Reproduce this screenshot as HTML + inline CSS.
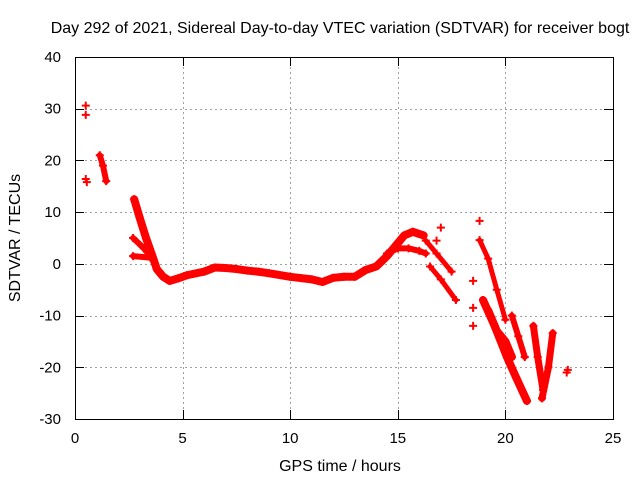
<!DOCTYPE html>
<html><head><meta charset="utf-8"><style>
body{margin:0;background:#fff;}
svg{display:block;font-family:"Liberation Sans",sans-serif;}
</style></head><body>
<svg id="chart" width="640" height="480" viewBox="0 0 640 480" xmlns="http://www.w3.org/2000/svg">
<rect x="0" y="0" width="640" height="480" fill="#fff"/>
<g id="grid"></g>
<g id="series"></g>
<rect x="75.5" y="57.5" width="538" height="362" fill="none" stroke="#000" stroke-width="1"/>
<g id="ticks"></g>
<text x="340" y="33" font-size="16" text-anchor="middle">Day 292 of 2021, Sidereal Day-to-day VTEC variation (SDTVAR) for receiver bogt</text>
<text x="340" y="471" font-size="16" text-anchor="middle">GPS time / hours</text>
<text transform="translate(20,238) rotate(-90)" font-size="16" text-anchor="middle">SDTVAR / TECUs</text>
</svg>
<script>
const xTicks=[0,5,10,15,20,25];
const yTicks=[40,30,20,10,0,-10,-20,-30];
const isolated=[[0.5,30.6],[0.5,28.8],[0.5,16.4],[0.55,15.8],[18.8,8.3],[18.5,-3.3],[18.5,-8.5],[18.5,-12],[22.85,-21],[22.9,-20.5],[16.8,4.5],[17.0,7]];
const trackA=[[1.15,21],[1.3,19],[1.45,16]];
const trackMain=[[2.75,12.5],[3.0,9],[3.3,5],[3.6,1.5],[3.8,-1],[4.1,-2.5],[4.4,-3.3],[4.8,-2.8],[5.2,-2.2],[6,-1.5],[6.5,-0.7],[7,-0.8],[7.5,-1],[8,-1.3],[8.5,-1.5],[9,-1.8],[10,-2.5],[11,-3],[11.5,-3.5],[12,-2.7],[12.5,-2.5],[13,-2.5],[13.5,-1.2],[14,-0.5],[14.5,1.5],[15,4],[15.3,5.5],[15.7,6.2],[16.2,5.5]];
const trackBranch1=[[2.7,5],[3.2,3],[3.6,1]];
const trackBranch2=[[2.7,1.5],[3.5,1.2]];
const trackLower=[[14.5,2],[15,3],[15.5,3],[16,2.5],[16.3,2]];
const trackDrop1=[[16.3,4.5],[16.8,2],[17.5,-1.5]];
const trackDrop2=[[16.5,-0.5],[17,-3],[17.7,-7]];
const trackR1=[[18.8,4.6],[19.2,1],[19.6,-5],[20,-10.8]];
const trackR2=[[18.96,-7],[19.5,-12],[20.07,-18],[20.5,-22],[21,-26.5]];
const trackR2b=[[19.2,-9],[19.6,-13],[20,-15],[20.3,-18]];
const trackR3=[[20.3,-10],[20.6,-14],[20.9,-18]];
const trackR4=[[21.3,-12],[21.5,-18],[21.75,-24.4]];
const trackR5=[[22.2,-13.4],[22,-20],[21.7,-26]];
const tracks=[trackA,trackMain,trackBranch1,trackBranch2,trackLower,trackDrop1,trackDrop2,trackR1,trackR2,trackR2b,trackR3,trackR4,trackR5];
const widths=[6,8,6,6,6,5,5,5,8,8,6,7,7];

const NS="http://www.w3.org/2000/svg";
const X=h=>75+h*(538/25);
const Y=v=>419-(v+30)*(362/70);
const grid=document.getElementById('grid'),ticks=document.getElementById('ticks'),ser=document.getElementById('series');
function mk(tag,attrs,parent){const e=document.createElementNS(NS,tag);for(const k in attrs)e.setAttribute(k,attrs[k]);parent.appendChild(e);return e;}
xTicks.forEach(t=>{const x=Math.round(X(t))+0.5;
 if(t>0&&t<25){const g=mk('line',{x1:x,y1:57,x2:x,y2:419,stroke:'#a0a0a0','stroke-dasharray':'2,3'},grid);
 
 }
 mk('line',{x1:x,y1:419,x2:x,y2:410,stroke:'#000'},ticks);mk('line',{x1:x,y1:57,x2:x,y2:66,stroke:'#000'},ticks);
 const l=mk('text',{x:X(t),y:443,'font-size':15,'text-anchor':'middle'},ticks);l.textContent=t;
 
 });
yTicks.forEach(t=>{const y=Math.round(Y(t))+0.5;
 if(t<40&&t>-30){const g=mk('line',{x1:75,y1:y,x2:613,y2:y,stroke:'#a0a0a0','stroke-dasharray':'2,3'},grid);
 
 }
 mk('line',{x1:75,y1:y,x2:84,y2:y,stroke:'#000'},ticks);mk('line',{x1:613,y1:y,x2:604,y2:y,stroke:'#000'},ticks);
 const l=mk('text',{x:61,y:Y(t)+5,'font-size':15,'text-anchor':'end'},ticks);l.textContent=t;
 
 });
function plus(h,v){const x=X(h),y=Y(v);
 const p=mk('path',{d:`M${x-4},${y}H${x+4}M${x},${y-4}V${y+4}`,stroke:'#f00','stroke-width':2},ser);
 
 }
tracks.forEach((tr,i)=>{
 const pl=mk('polyline',{points:tr.map(p=>X(p[0])+','+Y(p[1])).join(' '),fill:'none',stroke:'#f00','stroke-width':widths[i],'stroke-linejoin':'round','stroke-linecap':'round'},ser);
 
 
 tr.forEach(p=>plus(p[0],p[1]));});
isolated.forEach(p=>plus(p[0],p[1]));
</script>
</body></html>
